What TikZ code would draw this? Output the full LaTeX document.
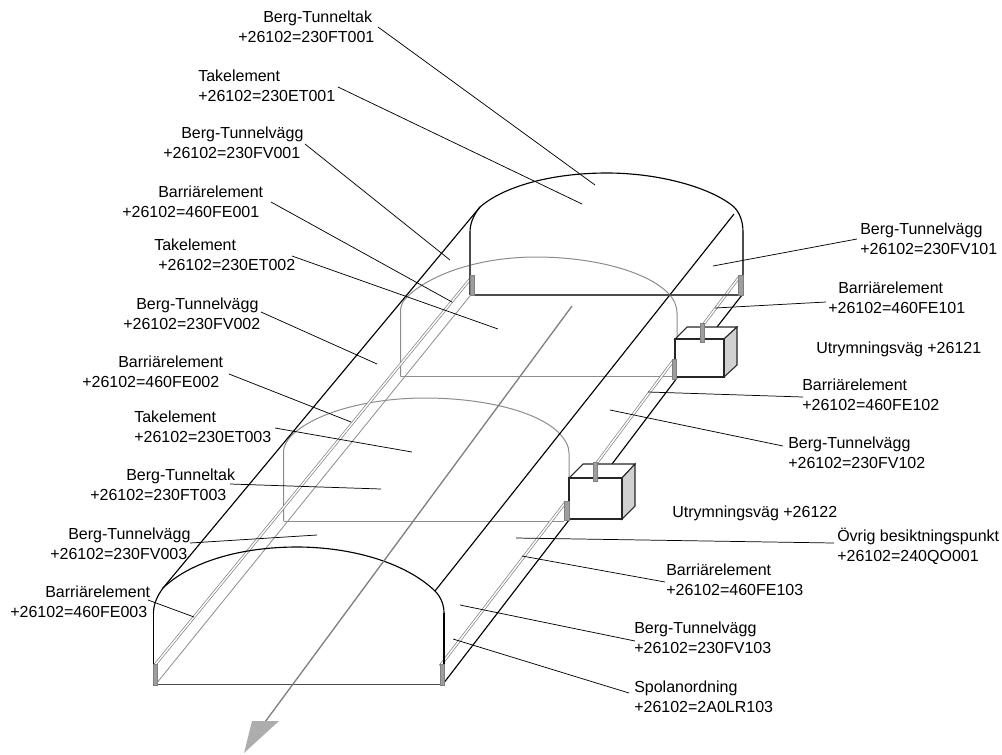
\documentclass[tikz,border=0pt]{standalone}
\usepackage{fontspec}
\setmainfont{Liberation Sans}
\newlength\pxu
\setlength\pxu{0.75pt}
\newcommand\ind[1]{\hspace*{#1\pxu}}
\newcommand\lab[2]{\strut #1\\\strut #2}
\definecolor{archgray}{gray}{0.55}
\definecolor{dark}{gray}{0.3}
\definecolor{postgray}{gray}{0.62}
\definecolor{railgray}{gray}{0.48}
\definecolor{sidegray}{gray}{0.82}
\tikzset{
  labelnode/.style={anchor=west,inner sep=0pt,align=left,font=\fontsize{12}{14.8}\selectfont},
  plainlabel/.style={anchor=base west,inner sep=0pt,font=\fontsize{12}{14.8}\selectfont},
  leader/.style={draw=black,line width=0.55pt},
  tunnel/.style={draw=black,line width=0.85pt},
  base/.style={draw=dark,line width=1.1pt},
  ghost/.style={draw=archgray,line width=0.75pt},
  thinfloor/.style={draw=archgray,line width=0.6pt},
  rail/.style={draw=railgray,line width=0.45pt},
  railcore/.style={draw=white,line width=0.7pt},
  post/.style={fill=postgray,draw=gray,line width=0.4pt},
  boxface/.style={fill=white,draw=black!85,line width=0.8pt},
  boxside/.style={fill=sidegray,draw=black!85,line width=0.8pt},
  axisline/.style={draw=gray,line width=1pt},
  axistip/.style={fill=black!32,draw=none}
}
\newcommand\railline[2]{%
  \draw[rail,line width=2.1pt] #1 -- #2;
  \draw[railcore,line width=1.1pt] #1 -- #2;}
\begin{document}
\begin{tikzpicture}[x=0.75pt,y=-0.75pt]
\useasboundingbox (0,0) rectangle (1002,754);
% targets
\coordinate (t1) at (595,185);
\coordinate (t2) at (582,204);
\coordinate (t3) at (450,260);
\coordinate (t4) at (452,302);
\coordinate (t5) at (498,329);
\coordinate (t6) at (377,364);
\coordinate (t7) at (351,422);
\coordinate (t8) at (412,452);
\coordinate (t9) at (381,489);
\coordinate (t10) at (317,535);
\coordinate (t11) at (194,617);
\coordinate (t12) at (713,266);
\coordinate (t13) at (715,308);
\coordinate (t14) at (648,392);
\coordinate (t15) at (610,410);
\coordinate (t16) at (516,538);
\coordinate (t17) at (522,556);
\coordinate (t18) at (460,605);
\coordinate (t19) at (453,639);
% ghost arches
\draw[ghost] (400.5,376.5) -- (400.5,312) .. controls (400.5,304) and (404,300) .. (407,297) .. controls (430,274) and (480,257) .. (536,257) .. controls (590,257) and (645,270) .. (668,293) .. controls (674,299) and (677,306) .. (677,313) -- (677,339);
\draw[ghost] (400.5,376.5) -- (672,376.5);
\draw[ghost] (283.5,521) -- (283.5,453) .. controls (283.5,445) and (287,441) .. (291,436) .. controls (315,412) and (370,398) .. (425,398) .. controls (480,398) and (535,410) .. (558,432) .. controls (565,439) and (569,446) .. (569,453) -- (569,478);
\draw[ghost] (283.5,521) -- (564,521);
% floors and rails, left
\draw[thinfloor] (156,684) -- (470,296);
\railline{(154,666)}{(471,278)}
% long edges
\draw[tunnel] (163,588) -- (480,207);
\draw[tunnel] (435,591) -- (734,214);
\draw[tunnel] (443,684) -- (569,520);
\draw[tunnel] (612,464) -- (677,378);
\draw[tunnel] (717,327) -- (742,295);
% rails, right
\railline{(440,666)}{(565,503)}
\railline{(596,464)}{(673,361)}
\railline{(703,325)}{(740,276)}
% back arch
\draw[tunnel] (470,232) .. controls (470,222) and (475,213) .. (480,207) .. controls (503,187) and (550,173) .. (607,173) .. controls (660,173) and (712,188) .. (734,207) .. controls (740,213) and (743,222) .. (743,232);
\draw[base] (470,295) -- (470,232);
\draw[base] (743,295) -- (743,232);
\draw[base] (470,295) -- (743,295);
% front arch
\draw[tunnel] (153.5,613) .. controls (153.5,603) and (158,595) .. (163,588) .. controls (190,562) and (240,547) .. (297,547) .. controls (350,547) and (405,562) .. (435,591) .. controls (441,597) and (444,605) .. (444,613);
\draw[tunnel] (153.5,684.5) -- (153.5,613);
\draw[tunnel] (444,684.5) -- (444,613);
\draw[base] (153.5,684.5) -- (444,684.5);
% boxes
\draw[boxface] (675,339) -- (687,327) -- (737,327) -- (724,339) -- cycle;
\draw[boxside] (724,339) -- (737,327) -- (737,365) -- (724,377) -- cycle;
\draw[boxface] (675,339) rectangle (724,377);
\draw[boxface] (569,478) -- (583,464) -- (635,464) -- (622,478) -- cycle;
\draw[boxside] (622,478) -- (635,464) -- (635,506) -- (622,519) -- cycle;
\draw[boxface] (569,478) rectangle (622,519);
% posts
\draw[post] (153,664) rectangle (157,685);
\draw[post] (440,664) rectangle (444,685);
\draw[post] (470,275) rectangle (474,295);
\draw[post] (738.5,275) rectangle (743,295);
\draw[post] (672,359) rectangle (676,379);
\draw[post] (564.5,501) rectangle (569,520);
\draw[post] (700,323) rectangle (704,342);
\draw[post] (593,462) rectangle (597,481);
% axis
\draw[axisline] (572,306) -- (265,722);
\fill[axistip] (252,721) -- (279,721) -- (244,753) -- cycle;
% labels
\node[labelnode] (l1) at (238,28.8) {\lab{\ind{25}Berg-Tunneltak}{+26102=230FT001}};
\node[labelnode] (l2) at (198,87.8) {\lab{Takelement}{+26102=230ET001}};
\node[labelnode] (l3) at (163,144.8) {\lab{\ind{18}Berg-Tunnelvägg}{+26102=230FV001}};
\node[labelnode] (l4) at (122,203.8) {\lab{\ind{36}Barriärelement}{+26102=460FE001}};
\node[labelnode] (l5) at (154,256.8) {\lab{Takelement}{\ind{4}+26102=230ET002}};
\node[labelnode] (l6) at (123,315.8) {\lab{\ind{13}Berg-Tunnelvägg}{+26102=230FV002}};
\node[labelnode] (l7) at (82,373.8) {\lab{\ind{36}Barriärelement}{+26102=460FE002}};
\node[labelnode] (l8) at (134,428.8) {\lab{Takelement}{+26102=230ET003}};
\node[labelnode] (l9) at (90,486.8) {\lab{\ind{36}Berg-Tunneltak}{+26102=230FT003}};
\node[labelnode] (l10) at (50,545.8) {\lab{\ind{18}Berg-Tunnelvägg}{+26102=230FV003}};
\node[labelnode] (l11) at (10,603.8) {\lab{\ind{35}Barriärelement}{+26102=460FE003}};
\node[labelnode] (l12) at (860,240.8) {\lab{Berg-Tunnelvägg}{+26102=230FV101}};
\node[labelnode] (l13) at (828,299.8) {\lab{\ind{10}Barriärelement}{+26102=460FE101}};
\node[labelnode] (l14) at (802,396.8) {\lab{Barriärelement}{+26102=460FE102}};
\node[labelnode] (l15) at (788,454.8) {\lab{Berg-Tunnelvägg}{+26102=230FV102}};
\node[labelnode] (l16) at (837,547.8) {\lab{Övrig besiktningspunkt}{+26102=240QO001}};
\node[labelnode] (l17) at (666,581.8) {\lab{Barriärelement}{+26102=460FE103}};
\node[labelnode] (l18) at (634,639.8) {\lab{Berg-Tunnelvägg}{+26102=230FV103}};
\node[labelnode] (l19) at (634,698.8) {\lab{Spolanordning}{+26102=2A0LR103}};
\node[plainlabel] (u1) at (816,353) {Utrymningsväg +26121};
\node[plainlabel] (u2) at (672,517) {Utrymningsväg +26122};
% leaders
\draw[leader] ([shift={(140,-1.8)}]l1.west) -- (t1);
\draw[leader] ([shift={(140,-0.8)}]l2.west) -- (t2);
\draw[leader] ([shift={(142,-0.8)}]l3.west) -- (t3);
\draw[leader] ([shift={(149,-1.8)}]l4.west) -- (t4);
\draw[leader] ([shift={(138,-0.8)}]l5.west) -- (t5);
\draw[leader] ([shift={(138,-3.8)}]l6.west) -- (t6);
\draw[leader] ([shift={(147,0.2)}]l7.west) -- (t7);
\draw[leader] ([shift={(141,-0.8)}]l8.west) -- (t8);
\draw[leader] ([shift={(140,-2.8)}]l9.west) -- (t9);
\draw[leader] ([shift={(140,-2.8)}]l10.west) -- (t10);
\draw[leader] ([shift={(138,-3.8)}]l11.west) -- (t11);
\draw[leader] ([shift={(-3,-1.8)}]l12.west) -- (t12);
\draw[leader] ([shift={(-2,2.2)}]l13.west) -- (t13);
\draw[leader] ([shift={(1,0.2)}]l14.west) -- (t14);
\draw[leader] ([shift={(-5,-8.8)}]l15.west) -- (t15);
\draw[leader] ([shift={(-3,-4.8)}]l16.west) -- (t16);
\draw[leader] ([shift={(-1,0.2)}]l17.west) -- (t17);
\draw[leader] ([shift={(1,1.2)}]l18.west) -- (t18);
\draw[leader] ([shift={(-5,-5.8)}]l19.west) -- (t19);
\end{tikzpicture}
\end{document}
